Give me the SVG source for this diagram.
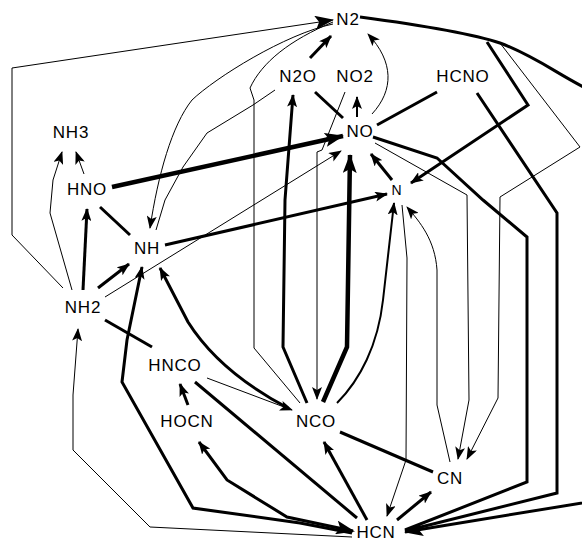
<svg xmlns="http://www.w3.org/2000/svg" width="582" height="542" viewBox="0 0 582 542">
<defs>
<marker id="a" markerUnits="userSpaceOnUse" markerWidth="14" markerHeight="10" refX="12" refY="5" orient="auto"><path d="M0,0 L13,5 L0,10 L3,5 Z" fill="#000"/></marker>
<marker id="b" markerUnits="userSpaceOnUse" markerWidth="20" markerHeight="14" refX="18" refY="7" orient="auto"><path d="M0,0 L19,7 L0,14 L4,7 Z" fill="#000"/></marker>
<marker id="s" markerUnits="userSpaceOnUse" markerWidth="20" markerHeight="14" refX="2" refY="7" orient="auto"><path d="M19,0 L0,7 L19,14 L15,7 Z" fill="#000"/></marker>
</defs>
<style>
.t{font-family:"Liberation Sans",Arial,sans-serif;font-size:17px;letter-spacing:0.8px;fill:#000;text-anchor:middle}
.l1{fill:none;stroke:#000;stroke-width:1}
.l2{fill:none;stroke:#000;stroke-width:2}
.l3{fill:none;stroke:#000;stroke-width:3}
.l4{fill:none;stroke:#000;stroke-width:4.5}
</style>
<rect width="582" height="542" fill="#fff"/>
<g id="connectors">
<path class="l1" d="M63,288 L12,235 L12,68 L333,20" marker-end="url(#b)"/>
<path class="l1" d="M333,24 C285,34 215,78 192,100 C172,125 158,175 150,228" marker-end="url(#a)"/>
<path class="l1" d="M300,403 L254,348 L254,100 L250,88 C262,62 290,40 333,22"/>
<path class="l1" d="M275,90 L253,105 L207,133 L183,167 L165,200 L156,230"/>
<path class="l1" d="M345,92 L322,150 L317,152 L317,399" marker-end="url(#a)"/>
<path class="l1" d="M372,114 C394,90 394,62 368,34" marker-end="url(#a)"/>
<path class="l2" d="M357,117 L357,97" marker-end="url(#a)"/>
<path class="l1" d="M105,297 L341,151" marker-end="url(#a)"/>
<path class="l1" d="M207,378 L292,410" marker-end="url(#a)"/>
<path class="l1" d="M375,143 L467,195 L469,400 L458,459" marker-end="url(#a)"/>
<path class="l1" d="M500,43 L580,147 L500,197 L498,398 L467,459" marker-end="url(#a)"/>
<path class="l1" d="M450,462 L437,405 L437,270 C435,240 420,222 407,207" marker-end="url(#a)"/>
<path class="l1" d="M402,205 L407,258 L406,460 L387,516" marker-end="url(#a)"/>
<path class="l1" d="M352,537 L150,527 L73,450 L73,395 L78,329" marker-end="url(#a)"/>
<path class="l1" d="M72,290 L50,213 L53,180 L62,152" marker-end="url(#a)"/>
<path class="l1" d="M84,174 L76,152" marker-end="url(#a)"/>
<path class="l4" d="M112,187 L343,136" marker-end="url(#b)"/>
<path class="l3" d="M310,58 L331,36" marker-end="url(#a)"/>
<path class="l3" d="M307,403 L283,347 L285,200 L293,95" marker-end="url(#a)"/>
<path class="l4" d="M323,402 L347,347 L350,155" marker-end="url(#b)"/>
<path class="l2" d="M337,403 C360,380 378,345 383,300 L394,203" marker-end="url(#a)"/>
<path class="l3" d="M315,92 L343,118"/>
<path class="l3" d="M437,92 L377,125"/>
<path class="l3" d="M392,180 L371,154" marker-end="url(#a)"/>
<path class="l3" d="M373,137 L437,158 L483,200 L527,237 L527,482 L405,530"/>
<path class="l3" d="M477,93 L557,213 L557,493 L405,531"/>
<path class="l3" d="M360,17 C420,25 470,33 500,43 C540,58 565,80 600,95 L600,500 L405,532" marker-end="url(#b)"/>
<path class="l3" d="M487,42 L528,105 L411,183" marker-end="url(#a)"/>
<path class="l3" d="M100,207 L130,235"/>
<path class="l3" d="M165,245 L387,194" marker-end="url(#a)"/>
<path class="l3" d="M98,288 L129,264" marker-end="url(#a)"/>
<path class="l3" d="M83,290 L87,209" marker-end="url(#a)"/>
<path class="l3" d="M105,320 L152,347"/>
<path class="l3" d="M288,408 C250,388 212,360 188,322 L160,268" marker-end="url(#a)"/>
<path class="l3" d="M340,432 L433,472"/>
<path class="l3" d="M367,520 L324,442" marker-end="url(#a)"/>
<path class="l3" d="M195,382 L357,518"/>
<path class="l3" d="M353,531 L287,517 L227,480 L199,442" marker-start="url(#s)" marker-end="url(#a)"/>
<path class="l3" d="M188,405 L180,384" marker-end="url(#a)"/>
<path class="l3" d="M352,533 L300,523 L193,508 L122,382 L127,340 L142,267" marker-end="url(#a)"/>
<path class="l3" d="M397,520 L431,492" marker-end="url(#a)"/>
</g>
<g id="N2"><text class="t" x="348" y="25">N2</text></g>
<g id="N2O"><text class="t" x="298" y="82">N2O</text></g>
<g id="NO2"><text class="t" x="355" y="82">NO2</text></g>
<g id="HCNO"><text class="t" x="463" y="82">HCNO</text></g>
<g id="NO"><text class="t" x="360" y="137">NO</text></g>
<g id="NH3"><text class="t" x="71" y="138">NH3</text></g>
<g id="HNO"><text class="t" x="87" y="195">HNO</text></g>
<g id="N"><text class="t" x="397" y="195" style="font-size:14px">N</text></g>
<g id="NH"><text class="t" x="147" y="254">NH</text></g>
<g id="NH2"><text class="t" x="83" y="313">NH2</text></g>
<g id="HNCO"><text class="t" x="175" y="371">HNCO</text></g>
<g id="HOCN"><text class="t" x="187" y="427">HOCN</text></g>
<g id="NCO"><text class="t" x="316" y="427">NCO</text></g>
<g id="CN"><text class="t" x="450" y="484">CN</text></g>
<g id="HCN"><text class="t" x="376" y="538">HCN</text></g>
</svg>
